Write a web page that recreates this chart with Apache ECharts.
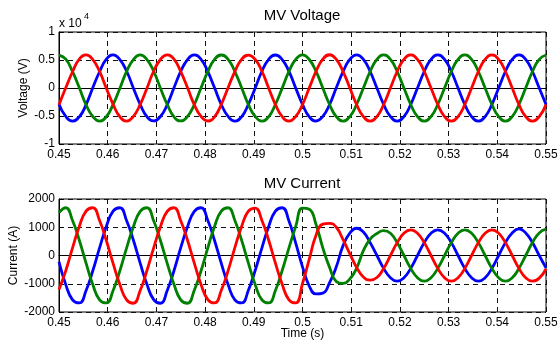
<!DOCTYPE html>
<html>
<head>
<meta charset="utf-8">
<script src="https://cdn.jsdelivr.net/npm/echarts@6/dist/echarts.min.js"></script>
<style>
    html, body { margin: 0; padding: 0; background: #fff; }
    #main { width: 559px; height: 343px; }
</style>
</head>
<body>
<div id="main"></div>
<script>
// sample times (s), one every 1/720 s
const time = [
    0.45, 0.45139, 0.45278, 0.45417, 0.45556, 0.45694, 0.45833, 0.45972, 0.46111, 0.4625, 0.46389, 0.46528,
    0.46667, 0.46806, 0.46944, 0.47083, 0.47222, 0.47361, 0.475, 0.47639, 0.47778, 0.47917, 0.48056, 0.48194,
    0.48333, 0.48472, 0.48611, 0.4875, 0.48889, 0.49028, 0.49167, 0.49306, 0.49444, 0.49583, 0.49722, 0.49861,
    0.5, 0.50139, 0.50278, 0.50417, 0.50556, 0.50694, 0.50833, 0.50972, 0.51111, 0.5125, 0.51389, 0.51528,
    0.51667, 0.51806, 0.51944, 0.52083, 0.52222, 0.52361, 0.525, 0.52639, 0.52778, 0.52917, 0.53056, 0.53194,
    0.53333, 0.53472, 0.53611, 0.5375, 0.53889, 0.54028, 0.54167, 0.54306, 0.54444, 0.54583, 0.54722, 0.54861,
    0.55,
];

// MV voltage (V)
const voltageA = [
    -2900, -5080, -5900, -5150, -2980, 60, 2900, 5140, 5920, 5060, 2990, -40,
    -2920, -5130, -5880, -5090, -2990, 40, 2960, 5080, 5910, 5120, 2920, 30,
    -2960, -5060, -5920, -5140, -2910, -30, 2990, 5130, 5890, 5070, 2980, -20,
    -2940, -5150, -5890, -5060, -2960, 50, 2930, 5100, 5920, 5110, 2950, 0,
    -2950, -5110, -5900, -5110, -2950, 0, 2950, 5110, 5900, 5110, 2950, 0,
    -2950, -5110, -5900, -5110, -2950, 0, 2950, 5110, 5900, 5110, 2950, 0,
    -2950,
];
const voltageB = [
    5880, 5140, 2920, 40, -2990, -5090, -5910, -5130, -2930, -40, 2980, 5080,
    5920, 5070, 2990, -30, -2930, -5140, -5880, -5080, -2970, 50, 2930, 5130,
    5890, 5120, 2940, 60, -2960, -5080, -5920, -5140, -2910, -20, 2960, 5100,
    5910, 5090, 2960, -10, -2950, -5110, -5900, -5110, -2950, 0, 2950, 5110,
    5900, 5110, 2950, 0, -2950, -5110, -5900, -5110, -2950, 0, 2950, 5110,
    5900, 5110, 2950, 0, -2950, -5110, -5900, -5110, -2950, 0, 2950, 5110,
    5900,
];
const voltageC = [
    -2980, 40, 2900, 5150, 5900, 5080, 2960, -50, -2920, -5130, -5910, -5070,
    -2940, -30, 2990, 5090, 5920, 5140, 2910, 40, -2990, -5080, -5890, -5140,
    -2910, 50, 2940, 5130, 5880, 5100, 2990, -30, -2960, -5120, -5920, -5090,
    -2960, 20, 2970, 5160, 5940, 5090, 2930, 10, -2950, -5110, -5900, -5110,
    -2950, 0, 2950, 5110, 5900, 5110, 2950, 0, -2950, -5110, -5900, -5110,
    -2950, 0, 2950, 5110, 5900, 5110, 2950, 0, -2950, -5110, -5900, -5110,
    -2950,
];

// MV current (A)
const currentA = [
    -220, -1030, -1570, -1680, -1240, -540, 270, 1030, 1570, 1690, 1230, 540,
    -270, -1020, -1560, -1690, -1240, -540, 280, 1020, 1560, 1690, 1240, 530,
    -280, -1030, -1570, -1680, -1230, -530, 270, 1030, 1570, 1690, 1220, 440,
    -400, -1080, -1360, -1330, -960, -400, 350, 790, 965, 830, 455, 0,
    -455, -788, -910, -788, -455, 0, 455, 788, 910, 788, 455, 0,
    -455, -788, -910, -788, -455, 0, 455, 800, 940, 800, 460, 0,
    -440,
];
const currentB = [
    1520, 1690, 1240, 540, -270, -1030, -1570, -1680, -1240, -540, 270, 1020,
    1560, 1690, 1230, 530, -280, -1020, -1570, -1690, -1230, -540, 270, 1030,
    1570, 1690, 1240, 540, -270, -1030, -1570, -1680, -1240, -530, 270, 1030,
    1680, 1640, 1100, 270, -420, -920, -990, -830, -450, 170, 580, 780,
    880, 788, 455, 0, -455, -788, -910, -788, -455, 0, 455, 788,
    910, 788, 455, 0, -455, -788, -910, -788, -455, 0, 460, 800,
    930,
];
const currentC = [
    -1200, -540, 270, 1030, 1570, 1690, 1240, 530, -280, -1030, -1570, -1690,
    -1240, -530, 270, 1020, 1560, 1690, 1230, 540, -270, -1030, -1560, -1680,
    -1230, -540, 280, 1030, 1570, 1680, 1240, 540, -270, -1020, -1570, -1680,
    -990, -130, 720, 1110, 1140, 1000, 560, 60, -420, -760, -870, -780,
    -455, 0, 455, 788, 910, 788, 455, 0, -455, -788, -910, -788,
    -455, 0, 455, 788, 910, 788, 455, 0, -455, -788, -910, -800,
    -470,
];

const xTicks = { min: 0.45, max: 0.55, interval: 0.01 };
const voltTicks = { min: -10000, max: 10000, interval: 5000 };
const currTicks = { min: -2000, max: 2000, interval: 1000 };

const font = "'Liberation Sans', Arial, Helvetica, sans-serif";
const phaseColors = ['#0000ff', '#008000', '#ff0000'];

function pairs(values) {
    return time.map((t, i) => [t, values[i]]);
}

function makeX(gridIndex, extra) {
    return Object.assign({
        type: 'value',
        gridIndex: gridIndex,
        min: xTicks.min,
        max: xTicks.max,
        interval: xTicks.interval,
        nameMoveOverlap: false,
        axisLine: { show: true, lineStyle: { color: '#000', width: 1 } },
        axisTick: { show: true, inside: true, length: 4, lineStyle: { color: '#000' } },
        axisLabel: {
            color: '#000',
            fontSize: 12,
            fontFamily: font,
            margin: 5,
            showMinLabel: true,
            showMaxLabel: true,
            formatter: (v) => String(Math.round(v * 100) / 100),
        },
        splitLine: { show: true, lineStyle: { color: '#111', type: [5, 4], width: 1 } },
    }, extra || {});
}

function makeY(gridIndex, ticks, extra) {
    return Object.assign({
        type: 'value',
        gridIndex: gridIndex,
        min: ticks.min,
        max: ticks.max,
        interval: ticks.interval,
        nameLocation: 'middle',
        nameMoveOverlap: false,
        nameTextStyle: { color: '#000', fontSize: 12, fontFamily: font },
        axisLine: { show: true, lineStyle: { color: '#000', width: 1 } },
        axisTick: { show: true, inside: true, length: 4, lineStyle: { color: '#000' } },
        axisLabel: { color: '#000', fontSize: 12, fontFamily: font, margin: 4, formatter: (v) => String(v) },
        splitLine: { show: true, lineStyle: { color: '#111', type: [5, 4], width: 1 } },
    }, extra || {});
}

function phase(values, color, idx) {
    return {
        type: 'line',
        xAxisIndex: idx,
        yAxisIndex: idx,
        data: pairs(values),
        smooth: 0.5,
        showSymbol: false,
        symbol: 'none',
        clip: true,
        lineStyle: { color: color, width: 2.8 },
        itemStyle: { color: color },
    };
}

const option = {
    animation: false,
    backgroundColor: '#fff',
    grid: [
        { left: 59, right: 13, top: 32, height: 112, show: true, borderColor: '#000', borderWidth: 1, outerBoundsMode: 'none', containLabel: false },
        { left: 59, right: 13, top: 199, height: 113, show: true, borderColor: '#000', borderWidth: 1, outerBoundsMode: 'none', containLabel: false },
    ],
    xAxis: [
        makeX(0),
        makeX(1, {
            name: 'Time (s)',
            nameLocation: 'middle',
            nameGap: 16,
            nameTextStyle: { color: '#000', fontSize: 12, fontFamily: font },
        }),
    ],
    yAxis: [
        makeY(0, voltTicks, {
            name: 'Voltage (V)',
            nameGap: 29.5,
            axisLabel: {
                color: '#000', fontSize: 12, fontFamily: font, margin: 4,
                formatter: (v) => String(v / 10000),
            },
        }),
        makeY(1, currTicks, { name: 'Current (A)', nameGap: 39.5 }),
    ],
    graphic: [
        { type: 'text', x: 302, y: 16, style: { text: 'MV Voltage', font: '15px ' + font, fill: '#000', align: 'center', verticalAlign: 'middle' } },
        { type: 'text', x: 302, y: 184, style: { text: 'MV Current', font: '15px ' + font, fill: '#000', align: 'center', verticalAlign: 'middle' } },
        { type: 'text', x: 59, y: 24, style: { text: 'x 10', font: '12px ' + font, fill: '#000', align: 'left', verticalAlign: 'middle' } },
        { type: 'text', x: 84, y: 17, style: { text: '4', font: '9px ' + font, fill: '#000', align: 'left', verticalAlign: 'middle' } },
    ],
    series: [
        phase(voltageA, phaseColors[0], 0),
        phase(voltageB, phaseColors[1], 0),
        phase(voltageC, phaseColors[2], 0),
        phase(currentA, phaseColors[0], 1),
        phase(currentB, phaseColors[1], 1),
        phase(currentC, phaseColors[2], 1),
    ],
};

const chart = echarts.init(document.getElementById('main'));
chart.setOption(option);
</script>
</body>
</html>
